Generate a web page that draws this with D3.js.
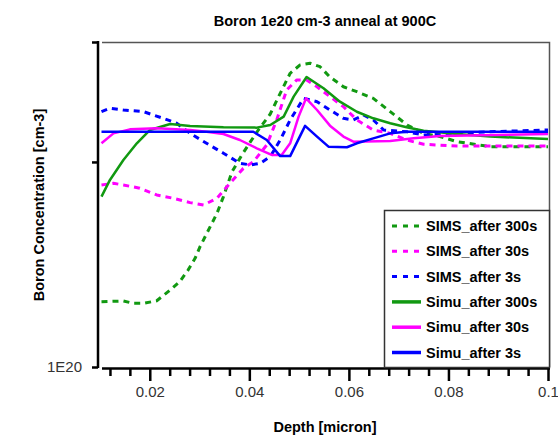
<!DOCTYPE html>
<html>
<head>
<meta charset="utf-8">
<script src="https://cdn.jsdelivr.net/npm/d3@7"></script>
<style>
  body { margin: 0; background: #fff; }
  svg { display: block; }
  text { font-family: "Liberation Sans", Arial, sans-serif; }
</style>
</head>
<body>
<svg id="chart" width="558" height="435"></svg>
<script>
// ---- Data (depth in micron, concentration in cm-3) ----
const title = "Boron 1e20 cm-3 anneal at 900C";
const xLabel = "Depth [micron]";
const yLabel = "Boron Concentration [cm-3]";
const xMajorTicks = [0.02, 0.04, 0.06, 0.08, 0.1];
const xTickLabels = ["0.02", "0.04", "0.06", "0.08", "0.1"];
const yTicks = [1e20, 2e20, 3e20];
const yTickLabels = ["1E20", "", ""];

const simsAfter300s = [
  [0.0103, 1.247e20], [0.0147, 1.250e20], [0.0167, 1.240e20], [0.0187, 1.240e20],
  [0.0214, 1.251e20], [0.0241, 1.297e20], [0.0260, 1.334e20], [0.0277, 1.388e20],
  [0.0291, 1.444e20], [0.0301, 1.502e20], [0.0314, 1.568e20], [0.0335, 1.681e20],
  [0.0348, 1.779e20], [0.0365, 1.933e20], [0.0385, 2.048e20], [0.0402, 2.140e20],
  [0.0418, 2.228e20], [0.0442, 2.352e20], [0.0462, 2.522e20], [0.0482, 2.699e20],
  [0.0502, 2.776e20], [0.0522, 2.792e20], [0.0542, 2.760e20], [0.0562, 2.665e20],
  [0.0589, 2.579e20], [0.0616, 2.536e20], [0.0649, 2.480e20], [0.0683, 2.371e20],
  [0.0717, 2.266e20], [0.0750, 2.203e20], [0.0783, 2.179e20], [0.0817, 2.142e20],
  [0.0884, 2.106e20], [0.1000, 2.106e20]
];
const simsAfter30s = [
  [0.0103, 1.850e20], [0.0127, 1.861e20], [0.0147, 1.850e20], [0.0180, 1.830e20],
  [0.0214, 1.789e20], [0.0247, 1.769e20], [0.0281, 1.743e20], [0.0308, 1.729e20],
  [0.0335, 1.769e20], [0.0361, 1.861e20], [0.0388, 1.957e20], [0.0408, 2.001e20],
  [0.0435, 2.118e20], [0.0455, 2.305e20], [0.0475, 2.551e20], [0.0495, 2.638e20],
  [0.0515, 2.638e20], [0.0536, 2.579e20], [0.0562, 2.494e20], [0.0589, 2.411e20],
  [0.0616, 2.305e20], [0.0649, 2.228e20], [0.0683, 2.203e20], [0.0716, 2.154e20],
  [0.0750, 2.123e20], [0.0817, 2.111e20], [0.1000, 2.111e20]
];
const simsAfter3s = [
  [0.0103, 2.371e20], [0.0120, 2.398e20], [0.0147, 2.384e20], [0.0187, 2.371e20],
  [0.0227, 2.318e20], [0.0254, 2.280e20], [0.0281, 2.203e20], [0.0314, 2.130e20],
  [0.0348, 2.060e20], [0.0381, 1.991e20], [0.0402, 1.980e20], [0.0422, 1.991e20],
  [0.0442, 2.036e20], [0.0462, 2.154e20], [0.0482, 2.305e20], [0.0509, 2.480e20],
  [0.0536, 2.452e20], [0.0562, 2.384e20], [0.0589, 2.318e20], [0.0609, 2.305e20],
  [0.0629, 2.344e20], [0.0649, 2.305e20], [0.0670, 2.228e20], [0.0716, 2.215e20],
  [0.0750, 2.191e20], [0.0817, 2.203e20], [0.0884, 2.215e20], [0.1000, 2.228e20]
];
const simuAfter300s = [
  [0.0103, 1.779e20], [0.0120, 1.882e20], [0.0147, 2.013e20], [0.0174, 2.130e20],
  [0.0200, 2.228e20], [0.0241, 2.274e20], [0.0281, 2.259e20], [0.0348, 2.249e20],
  [0.0415, 2.246e20], [0.0442, 2.266e20], [0.0469, 2.331e20], [0.0489, 2.494e20],
  [0.0515, 2.665e20], [0.0549, 2.566e20], [0.0582, 2.452e20], [0.0616, 2.370e20],
  [0.0649, 2.318e20], [0.0683, 2.280e20], [0.0716, 2.249e20], [0.0750, 2.223e20],
  [0.0817, 2.198e20], [0.0884, 2.179e20], [0.1000, 2.161e20]
];
const simuAfter30s = [
  [0.0103, 2.130e20], [0.0127, 2.203e20], [0.0160, 2.233e20], [0.0214, 2.241e20],
  [0.0281, 2.228e20], [0.0314, 2.215e20], [0.0348, 2.198e20], [0.0381, 2.154e20],
  [0.0415, 2.094e20], [0.0445, 2.048e20], [0.0465, 2.048e20], [0.0482, 2.130e20],
  [0.0499, 2.331e20], [0.0514, 2.480e20], [0.0536, 2.384e20], [0.0562, 2.261e20],
  [0.0589, 2.179e20], [0.0609, 2.142e20], [0.0683, 2.147e20], [0.0730, 2.166e20],
  [0.0783, 2.184e20], [0.1000, 2.198e20]
];
const simuAfter3s = [
  [0.0103, 2.215e20], [0.0408, 2.215e20], [0.0435, 2.154e20], [0.0462, 2.040e20],
  [0.0482, 2.040e20], [0.0512, 2.259e20], [0.0536, 2.179e20], [0.0559, 2.106e20],
  [0.0596, 2.102e20], [0.0616, 2.130e20], [0.0649, 2.166e20], [0.0683, 2.203e20],
  [0.0716, 2.215e20], [0.1000, 2.215e20]
];

const seriesNames = ["SIMS_after 300s", "SIMS_after 30s", "SIMS_after 3s",
                     "Simu_after 300s", "Simu_after 30s", "Simu_after 3s"];
const seriesData = [simsAfter300s, simsAfter30s, simsAfter3s,
                    simuAfter300s, simuAfter30s, simuAfter3s];

// ---- Styles ----
const colors = ["#119911", "#ff00ff", "#0000ff", "#119911", "#ff00ff", "#0000ff"];
const dashed = [true, true, true, false, false, false];

const svg = d3.select("#chart");
const x = d3.scaleLinear().domain([0.01, 0.1]).range([100, 548]);
const y = d3.scaleLog().domain([1e20, 3e20]).range([367, 42]);

// plot frame (top & right, gray)
svg.append("path")
  .attr("d", `M${x(0.01) + 2},42.5 H549.5 V367`)
  .attr("fill", "none").attr("stroke", "#555").attr("stroke-width", 1.5);

// clip
svg.append("clipPath").attr("id", "clip").append("rect")
  .attr("x", 100).attr("y", 42).attr("width", 449).attr("height", 325);

const line = d3.line().x(d => x(d[0])).y(d => y(d[1]));
const gLines = svg.append("g").attr("clip-path", "url(#clip)");
const drawOrder = [0, 1, 2, 3, 4, 5];
drawOrder.forEach(i => {
  gLines.append("path")
    .datum(seriesData[i])
    .attr("d", line)
    .attr("fill", "none")
    .attr("stroke", colors[i])
    .attr("stroke-width", dashed[i] ? 3 : 2.5)
    .attr("stroke-dasharray", dashed[i] ? "6,5" : null)
    .attr("stroke-linejoin", "round");
});

// X axis
const xMinor = d3.range(0.012, 0.1001, 0.004).map(v => +v.toFixed(3));
const xAxis = d3.axisBottom(x)
  .tickValues(xMinor)
  .tickSizeOuter(0)
  .tickSize(8)
  .tickFormat(d => {
    const k = xMajorTicks.findIndex(m => Math.abs(m - d) < 1e-9);
    return k >= 0 ? xTickLabels[k] : "";
  });
const gx = svg.append("g").attr("transform", "translate(0,368)").call(xAxis);
gx.select(".domain").remove();
gx.selectAll(".tick line")
  .attr("stroke", "#000").attr("stroke-width", 2.5)
  .attr("y2", d => xMajorTicks.some(m => Math.abs(m - d) < 1e-9) ? 13 : 8);
gx.selectAll(".tick text")
  .attr("y", 18).attr("dy", "0.71em")
  .attr("font-size", 15).attr("fill", "#333")
  .attr("font-family", "'Liberation Sans', Arial, sans-serif");
svg.append("line")
  .attr("x1", x(0.01) + 2).attr("x2", x(0.1) + 2)
  .attr("y1", 368.5).attr("y2", 368.5)
  .attr("stroke", "#000").attr("stroke-width", 2.5);

// Y axis
const yAxis = d3.axisLeft(y)
  .tickValues(yTicks)
  .tickSizeOuter(0)
  .tickSize(6)
  .tickFormat((d, i) => yTickLabels[i]);
const gy = svg.append("g").attr("transform", "translate(98,0)").call(yAxis);
gy.select(".domain").remove();
gy.selectAll(".tick line").attr("stroke", "#000").attr("stroke-width", 2.5);
gy.selectAll(".tick text")
  .attr("x", -16)
  .attr("font-size", 15).attr("fill", "#333")
  .attr("font-family", "'Liberation Sans', Arial, sans-serif");
svg.append("line")
  .attr("x1", 98).attr("x2", 98).attr("y1", 41).attr("y2", 368)
  .attr("stroke", "#000").attr("stroke-width", 2.5);

// Title and axis labels
svg.append("text").attr("x", 325).attr("y", 26)
  .attr("text-anchor", "middle").attr("font-weight", "bold")
  .attr("font-size", 14.5).attr("fill", "#000").text(title);
svg.append("text").attr("x", 325).attr("y", 432)
  .attr("text-anchor", "middle").attr("font-weight", "bold")
  .attr("font-size", 14.5).attr("fill", "#000").text(xLabel);
svg.append("text")
  .attr("transform", "translate(44,205) rotate(-90)")
  .attr("text-anchor", "middle").attr("font-weight", "bold")
  .attr("font-size", 14.5).attr("fill", "#000").text(yLabel);

// Legend
const lg = svg.append("g");
lg.append("rect")
  .attr("x", 384.5).attr("y", 210.5).attr("width", 165).attr("height", 157)
  .attr("fill", "#fff").attr("stroke", "#333").attr("stroke-width", 1.5);
seriesNames.forEach((name, i) => {
  const cy = 226 + i * 25.3;
  lg.append("line")
    .attr("x1", 392).attr("x2", 421).attr("y1", cy).attr("y2", cy)
    .attr("stroke", colors[i]).attr("stroke-width", dashed[i] ? 3 : 3.5)
    .attr("stroke-dasharray", dashed[i] ? "5,6" : null);
  lg.append("text")
    .attr("x", 426).attr("y", cy).attr("dy", "0.35em")
    .attr("font-weight", "bold").attr("font-size", 14.5).attr("fill", "#000")
    .text(name);
});
</script>
</body>
</html>
